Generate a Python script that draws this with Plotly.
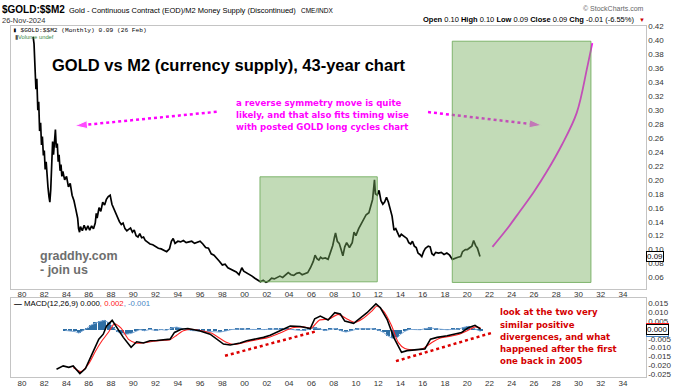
import plotly.graph_objects as go

# ---------------- DATA ----------------
gold_m2_years = [
    1981.00, 1981.08, 1981.17, 1981.25, 1981.33, 1981.42, 1981.50, 1981.58, 1981.67, 1981.75, 1981.83, 1981.92,
    1982.00, 1982.08, 1982.17, 1982.25, 1982.33, 1982.42, 1982.50, 1982.58, 1982.67, 1982.75, 1982.83, 1982.92,
    1983.00, 1983.08, 1983.17, 1983.25, 1983.33, 1983.42, 1983.50, 1983.58, 1983.67, 1983.83,
    1984.00, 1984.17, 1984.33, 1984.50, 1984.67, 1984.83,
    1985.00, 1985.08, 1985.17, 1985.25, 1985.42, 1985.58, 1985.75, 1985.92,
    1986.08, 1986.25, 1986.42, 1986.58, 1986.67, 1986.75, 1986.92,
    1987.08, 1987.25, 1987.42, 1987.58, 1987.75, 1987.92,
    1988.08, 1988.25, 1988.42, 1988.58, 1988.75, 1988.92,
    1989.08, 1989.25, 1989.42, 1989.58, 1989.75, 1989.92,
    1990.08, 1990.25, 1990.42, 1990.58, 1990.75, 1990.92,
    1991.08, 1991.25, 1991.50, 1991.75,
    1992.00, 1992.25, 1992.50, 1992.75,
    1993.00, 1993.25, 1993.42, 1993.58, 1993.75,
    1994.00, 1994.25, 1994.50, 1994.75,
    1995.00, 1995.25, 1995.50, 1995.75,
    1996.00, 1996.25, 1996.50, 1996.75,
    1997.00, 1997.25, 1997.50, 1997.75,
    1998.00, 1998.25, 1998.50, 1998.75,
    1999.00, 1999.25, 1999.50, 1999.75, 1999.92,
    2000.17, 2000.42, 2000.67, 2000.92,
    2001.17, 2001.42, 2001.67, 2001.92,
    2002.17, 2002.42, 2002.67, 2002.92,
    2003.17, 2003.42, 2003.67, 2003.92,
    2004.17, 2004.42, 2004.67, 2004.92,
    2005.17, 2005.42, 2005.67, 2005.92,
    2006.17, 2006.33, 2006.50, 2006.67, 2006.83,
    2007.00, 2007.25, 2007.50, 2007.75, 2007.92,
    2008.08, 2008.17, 2008.33, 2008.50, 2008.67, 2008.83,
    2009.00, 2009.17, 2009.42, 2009.67, 2009.83,
    2010.00, 2010.25, 2010.50, 2010.75, 2010.92,
    2011.17, 2011.33, 2011.50, 2011.67, 2011.75, 2011.92,
    2012.08, 2012.25, 2012.42, 2012.58, 2012.75, 2012.92,
    2013.08, 2013.25, 2013.42, 2013.58, 2013.75, 2013.92,
    2014.08, 2014.25, 2014.42, 2014.58, 2014.75, 2014.92,
    2015.08, 2015.25, 2015.42, 2015.58, 2015.75, 2015.92,
    2016.08, 2016.25, 2016.50, 2016.67, 2016.83,
    2017.00, 2017.17, 2017.42, 2017.67, 2017.92,
    2018.17, 2018.42, 2018.67, 2018.92,
    2019.17, 2019.42, 2019.58, 2019.83,
    2020.00, 2020.17, 2020.42, 2020.58, 2020.75, 2020.92,
    2021.08, 2021.15,
]
gold_m2_values = [
    0.405, 0.395, 0.360, 0.330, 0.345, 0.300, 0.312, 0.270, 0.282, 0.250, 0.262, 0.235,
    0.242, 0.215, 0.226, 0.200, 0.190, 0.176, 0.168, 0.186, 0.226, 0.255, 0.236, 0.262,
    0.272, 0.246, 0.252, 0.226, 0.236, 0.213, 0.222, 0.205, 0.212, 0.200,
    0.205, 0.190, 0.195, 0.178, 0.170, 0.158,
    0.145, 0.130, 0.125, 0.133, 0.127, 0.135, 0.128, 0.134,
    0.128, 0.134, 0.130, 0.138, 0.152, 0.145, 0.160,
    0.155, 0.168, 0.164, 0.172, 0.176, 0.178,
    0.165, 0.158, 0.152, 0.145, 0.140, 0.136,
    0.138, 0.130, 0.127, 0.129, 0.131, 0.125,
    0.128, 0.120, 0.118, 0.123, 0.117, 0.118,
    0.113, 0.111, 0.108, 0.107,
    0.104, 0.102, 0.101, 0.099,
    0.097, 0.101, 0.112, 0.116, 0.109,
    0.112, 0.111, 0.113, 0.110,
    0.111, 0.112, 0.109, 0.111,
    0.112, 0.108, 0.103, 0.102,
    0.094, 0.092, 0.088, 0.083,
    0.078, 0.079, 0.074, 0.072,
    0.071, 0.068, 0.064, 0.074, 0.069,
    0.067, 0.064, 0.062, 0.059,
    0.056, 0.054, 0.056, 0.053,
    0.055, 0.059, 0.058, 0.060,
    0.062, 0.060, 0.064, 0.067,
    0.064, 0.063, 0.066, 0.067,
    0.064, 0.066, 0.067, 0.074,
    0.083, 0.092, 0.087, 0.085, 0.089,
    0.087, 0.088, 0.086, 0.098, 0.106,
    0.118, 0.124, 0.112, 0.109, 0.100, 0.091,
    0.104, 0.110, 0.103, 0.110, 0.125,
    0.120, 0.130, 0.137, 0.146, 0.150,
    0.153, 0.162, 0.172, 0.200, 0.180, 0.178,
    0.185, 0.170, 0.165, 0.168, 0.175, 0.168,
    0.160, 0.148, 0.128, 0.130, 0.124, 0.118,
    0.122, 0.120, 0.117, 0.116, 0.110, 0.108,
    0.112, 0.105, 0.103, 0.095, 0.093, 0.090,
    0.097, 0.102, 0.105, 0.104, 0.094,
    0.092, 0.096, 0.095, 0.096, 0.093,
    0.095, 0.092, 0.086, 0.088,
    0.089, 0.090, 0.097, 0.100,
    0.100, 0.102, 0.105, 0.113, 0.106, 0.102,
    0.094, 0.090,
]

# hand-drawn projection curve (magenta)
projection_years = [2022.27, 2023.5, 2024.74, 2026.0, 2027.14, 2028.5, 2029.84, 2030.79, 2031.24]
projection_values = [0.104, 0.128, 0.155, 0.183, 0.2115, 0.250, 0.296, 0.3617, 0.396]

# highlighted green boxes: [x0, x1, y0, y1]
box_1 = [2001.38, 2011.92, 0.0538, 0.2044]
box_2 = [2018.66, 2031.12, 0.0529, 0.3988]

# dotted arrows in main panel: (start, tip)
arrow_left_x = [1997.49, 1984.76]
arrow_left_y = [0.2976, 0.2774]
arrow_right_x = [2016.48, 2026.69]
arrow_right_y = [0.2972, 0.2783]

# MACD(12,26,9)
macd_years = [1983.1, 1983.7, 1984.2, 1984.6, 1985.2, 1985.7, 1986.3, 1986.9, 1987.3, 1987.6,
              1988.1, 1988.5, 1989.1, 1989.8, 1990.3, 1990.9, 1991.5, 1992.1, 1992.7, 1993.3,
              1993.7, 1994.3, 1994.9, 1995.5, 1996.0, 1996.9, 1998.1, 1998.7, 1999.6, 2000.2,
              2001.0, 2001.7, 2002.3, 2002.9, 2003.5, 2004.1, 2005.0, 2005.9, 2006.3, 2006.8,
              2007.5, 2008.1, 2008.6, 2009.0, 2009.8, 2010.4, 2011.0, 2011.8, 2012.2, 2012.8,
              2013.4, 2014.1, 2014.6, 2015.5, 2016.2, 2016.7, 2017.3, 2018.2, 2018.9, 2019.5,
              2020.1, 2020.7, 2021.2]
macd_values = [-0.0222, -0.0203, -0.0211, -0.0203, -0.0246, -0.0218, -0.0135, -0.0052, -0.0024, 0.0022,
               0.0054, 0.0013, -0.0042, -0.0098, -0.0067, -0.0074, -0.0061, -0.0060, -0.0057, -0.0052,
               -0.0014, 0.0004, 0.0008, 0.0002, -0.0006, -0.0024, -0.0080, -0.0085, -0.0074, -0.0061,
               -0.0052, -0.0042, -0.0030, -0.0014, 0.0002, 0.0022, 0.0019, 0.0008, 0.0063, 0.0078,
               0.0056, 0.0097, 0.0090, 0.0050, 0.0037, 0.0069, 0.0097, 0.0147, 0.0125, 0.0060,
               -0.0042, -0.0126, -0.0117, -0.0111, -0.0107, -0.0052, -0.0042, -0.0033, -0.0024, -0.0014,
               0.0013, 0.0026, 0.0004]

signal_years = [1984.6, 1985.3, 1986.0, 1986.6, 1987.2, 1987.8, 1988.3, 1988.9, 1989.6, 1990.3,
                1991.0, 1991.8, 1992.6, 1993.3, 1993.9, 1994.5, 1995.2, 1996.0, 1997.0, 1998.3,
                1999.0, 2000.0, 2001.0, 2002.0, 2003.0, 2004.3, 2005.3, 2006.0, 2006.7, 2007.6,
                2008.4, 2009.2, 2009.9, 2010.6, 2011.4, 2011.9, 2012.5, 2013.2, 2013.8, 2014.4,
                2015.0, 2016.0, 2016.9, 2017.6, 2018.5, 2019.3, 2020.0, 2020.7, 2021.2]
signal_values = [-0.0212, -0.0235, -0.0190, -0.0120, -0.0060, -0.0010, 0.0035, 0.0010, -0.0055, -0.0075,
                 -0.0072, -0.0064, -0.0059, -0.0055, -0.0030, -0.0005, 0.0004, -0.0003, -0.0018, -0.0068,
                 -0.0082, -0.0070, -0.0056, -0.0045, -0.0022, 0.0012, 0.0017, 0.0010, 0.0055, 0.0062,
                 0.0088, 0.0062, 0.0042, 0.0063, 0.0105, 0.0135, 0.0105, 0.0025, -0.0070, -0.0105,
                 -0.0112, -0.0106, -0.0068, -0.0045, -0.0035, -0.0024, -0.0005, 0.0017, 0.0012]

hist_years = [1983.9, 1984.3, 1984.8, 1985.1, 1985.4, 1985.8, 1986.2, 1986.6, 1987.0, 1987.4,
              1987.8, 1988.2, 1988.6, 1989.0, 1989.4, 1989.8, 1990.2, 1990.6, 1991.0, 1991.5,
              1992.0, 1992.5, 1993.0, 1993.5, 1993.9, 1994.3, 1994.8, 1995.3, 1995.8, 1996.3,
              1996.8, 1997.3, 1997.8, 1998.3, 1998.8, 1999.3, 1999.8, 2000.3, 2000.8, 2001.3,
              2001.8, 2002.3, 2002.8, 2003.3, 2003.8, 2004.3, 2004.8, 2005.3, 2005.8, 2006.3,
              2006.7, 2007.2, 2007.7, 2008.2, 2008.7, 2009.1, 2009.6, 2010.1, 2010.6, 2011.1,
              2011.6, 2012.1, 2012.5, 2012.9, 2013.3, 2013.7, 2014.0, 2014.4, 2014.8, 2015.3,
              2015.8, 2016.3, 2016.7, 2017.2, 2017.7, 2018.2, 2018.7, 2019.2, 2019.7, 2020.1,
              2020.5, 2020.9, 2021.2]
hist_values = [-0.0003, -0.0005, -0.0010, -0.0018, -0.0008, 0.0008, 0.0028, 0.0040, 0.0048, 0.0054,
               0.0040, 0.0015, -0.0012, -0.0022, -0.0024, -0.0020, -0.0010, 0.0002, -0.0005, 0.0003,
               -0.0003, 0.0002, -0.0002, 0.0012, 0.0016, 0.0008, 0.0002, -0.0004, -0.0006, -0.0008,
               -0.0007, -0.0010, -0.0012, -0.0006, 0.0002, 0.0004, 0.0006, 0.0003, 0.0002, 0.0003,
               0.0002, 0.0005, 0.0004, 0.0003, 0.0005, 0.0002, -0.0002, -0.0003, 0.0004, 0.0012,
               0.0008, -0.0004, 0.0003, 0.0008, -0.0006, -0.0012, -0.0004, 0.0005, 0.0006, 0.0004,
               0.0006, -0.0003, -0.0015, -0.0035, -0.0048, -0.0045, -0.0025, -0.0008, 0.0003, 0.0002,
               0.0001, 0.0008, 0.0012, 0.0006, 0.0002, 0.0001, 0.0003, 0.0004, 0.0015, 0.0020,
               0.0010, 0.0002, -0.0008]

# divergence lines in MACD panel
div_1_x = [1998.24, 2006.33]
div_1_y = [-0.01461, -0.00094]
div_2_x = [2013.60, 2022.20]
div_2_y = [-0.01761, -0.00167]

# axis ticks
x_tick_years = [1980, 1982, 1984, 1986, 1988, 1990, 1992, 1994, 1996, 1998, 2000, 2002, 2004, 2006,
                2008, 2010, 2012, 2014, 2016, 2018, 2020, 2022, 2024, 2026, 2028, 2030, 2032, 2034]
x_tick_labels = ["80", "82", "84", "86", "88", "90", "92", "94", "96", "98", "00", "02", "04", "06",
                 "08", "10", "12", "14", "16", "18", "20", "22", "24", "26", "28", "30", "32", "34"]
main_y_ticks = [0.06, 0.08, 0.10, 0.12, 0.14, 0.16, 0.18, 0.20, 0.22, 0.24, 0.26, 0.28, 0.30,
                0.32, 0.34, 0.36, 0.38, 0.40, 0.42]
main_y_labels = ["0.06", "0.08", "0.10", "0.12", "0.14", "0.16", "0.18", "0.20", "0.22", "0.24",
                 "0.26", "0.28", "0.30", "0.32", "0.34", "0.36", "0.38", "0.40", "0.42"]
macd_y_ticks = [0.015, 0.010, 0.005, -0.005, -0.010, -0.015, -0.020, -0.025]
macd_y_labels = ["0.015", "0.010", "0.005", "-0.005", "-0.010", "-0.015", "-0.020", "-0.025"]

# ---------------- FIGURE ----------------
W, H = 680, 391
def px(x):
    return x / W
def py(y):
    return 1 - y / H

FONT = "Liberation Sans, Arial, sans-serif"
VFONT = "DejaVu Sans, Verdana, sans-serif"
MAGENTA = "#ff00ff"

fig = go.Figure()

# main price line
fig.add_trace(go.Scatter(x=gold_m2_years, y=gold_m2_values, mode="lines",
                         line=dict(color="black", width=1.7), xaxis="x", yaxis="y",
                         hoverinfo="skip"))
# projection curve
fig.add_trace(go.Scatter(x=projection_years, y=projection_values, mode="lines",
                         line=dict(color=MAGENTA, width=1.8, shape="spline"),
                         xaxis="x", yaxis="y", hoverinfo="skip"))
# dotted arrows
for ax_, ay_ in ((arrow_left_x, arrow_left_y), (arrow_right_x, arrow_right_y)):
    fig.add_trace(go.Scatter(x=ax_, y=ay_, mode="lines+markers",
                             line=dict(color=MAGENTA, width=2.5, dash="dot"),
                             marker=dict(symbol="arrow", size=[0, 13], color=MAGENTA,
                                         angleref="previous"),
                             xaxis="x", yaxis="y", hoverinfo="skip"))

# MACD histogram
fig.add_trace(go.Bar(x=hist_years, y=hist_values, width=0.36,
                     marker=dict(color="#2f6fa5", line=dict(width=0)),
                     xaxis="x2", yaxis="y2", hoverinfo="skip"))
fig.add_trace(go.Scatter(x=hist_years, y=hist_values, mode="lines",
                         line=dict(color="#7fa9d6", width=1), xaxis="x2", yaxis="y2",
                         hoverinfo="skip"))
# signal
fig.add_trace(go.Scatter(x=signal_years, y=signal_values, mode="lines",
                         line=dict(color="#ff2020", width=1.1, shape="spline", smoothing=0.6),
                         xaxis="x2", yaxis="y2", hoverinfo="skip"))
# MACD
fig.add_trace(go.Scatter(x=macd_years, y=macd_values, mode="lines",
                         line=dict(color="black", width=1.6),
                         xaxis="x2", yaxis="y2", hoverinfo="skip"))
# divergence lines
for dx, dy in ((div_1_x, div_1_y), (div_2_x, div_2_y)):
    fig.add_trace(go.Scatter(x=dx, y=dy, mode="lines",
                             line=dict(color="#dd0000", width=2.5, dash="dot"),
                             xaxis="x2", yaxis="y2", hoverinfo="skip"))

# green boxes above traces
shapes = []
for b in (box_1, box_2):
    shapes.append(dict(type="rect", xref="x", yref="y", x0=b[0], x1=b[1], y0=b[2], y1=b[3],
                       layer="above", fillcolor="rgba(120,175,95,0.45)",
                       line=dict(color="rgba(110,170,90,0.85)", width=1)))

ann = []
def text(x, y, s, size=8, color="black", family=FONT, xanchor="left", **kw):
    ann.append(dict(x=px(x), y=py(y), xref="paper", yref="paper", text=s, showarrow=False,
                    xanchor=xanchor, yanchor="middle",
                    font=dict(size=size, color=color, family=family), **kw))

# header
text(0, 6, "<b>$GOLD:$$M2</b>", size=10)
text(67, 6.5, "Gold - Continuous Contract (EOD)/M2 Money Supply (Discontinued)", size=7.5)
text(299, 6.5, "CME/INDX", size=6.5)
text(0, 17, "26-Nov-2024", size=7.5, color="#333")
text(646, 5, "© StockCharts.com", size=7, color="#666", xanchor="right")
text(636, 15.5, "<b>Open</b> 0.10 <b>High</b> 0.10 <b>Low</b> 0.09 <b>Close</b> 0.09 <b>Chg</b> -0.01 (-6.55%)",
     size=7.5, xanchor="right")
text(637, 16, "▼", size=6, color="#cc0000")
text(11, 27, "▮ $GOLD:$$M2 (Monthly) 0.09 (26 Feb)", size=6.2,
     family="Liberation Mono, Courier New, monospace")
text(13, 33.5, "<span style='color:#555'>▮</span>Volume undef", size=5.8, color="#3a8a4a")

# title and notes
text(50, 61.5, "<b>GOLD vs M2 (currency supply), 43-year chart</b>", size=16.5)
for yy, s in ((100.7, "a reverse symmetry move is quite"),
              (112.5, "likely, and that also fits timing wise"),
              (125, "with posted GOLD long cycles chart")):
    text(233.5, yy, "<b>" + s + "</b>", size=8.6, color=MAGENTA, family=VFONT)
text(38, 256, "<b>graddhy.com</b>", size=12.5, color="#6e6e6e")
text(38, 270.5, "<b>- join us</b>", size=12.5, color="#6e6e6e")
for yy, s in ((313.3, "look at the two very"),
              (325.7, "similar positive"),
              (338.2, "divergences, and what"),
              (350.6, "happened after the first"),
              (362.6, "one back in 2005")):
    text(498, yy, "<b>" + s + "</b>", size=8.6, color="#d40000", family=VFONT)

# MACD legend
text(12, 304, "<b>—</b> MACD(12,26,9) 0.000<span style='color:#ff2020'>, 0.002</span>"
              "<span style='color:#4a86c5'>, -0.001</span>", size=7.8)

# last-value boxes on right axes
def value_box(yv, yref, s, border):
    ann.append(dict(x=px(646), y=yv, xref="paper", yref=yref, text=s, showarrow=False,
                    xanchor="left", yanchor="middle", bgcolor="white", bordercolor=border,
                    borderwidth=1, borderpad=0, font=dict(size=8, family=FONT, color="black")))

value_box(0.09, "y", "0.09", "black")
value_box(0.0009, "y2", "0.000", "#ff2020")
value_box(-0.0009, "y2", "0.000", "#4a86c5")
value_box(0.0, "y2", "0.000", "black")

x_dom = [px(11), px(645.6)]
x_rng = [1979.01, 2036.03]
axis_common = dict(showgrid=False, zeroline=False, showline=True, mirror=True,
                   linecolor="#c4c4c4", linewidth=1, ticks="",
                   tickfont=dict(size=8, color="#333", family=FONT))

fig.update_layout(
    width=W, height=H, margin=dict(l=0, r=0, t=0, b=0),
    paper_bgcolor="white", plot_bgcolor="white", showlegend=False,
    bargap=0,
    xaxis=dict(domain=x_dom, range=x_rng, anchor="y", tickvals=x_tick_years,
               ticktext=x_tick_labels, ticklabelstandoff=-2, **axis_common),
    yaxis=dict(domain=[py(289.3), py(22.7)], range=[0.0437, 0.4201], anchor="x", side="right",
               tickvals=main_y_ticks, ticktext=main_y_labels, **axis_common),
    xaxis2=dict(domain=x_dom, range=x_rng, anchor="y2", tickvals=x_tick_years,
                ticktext=x_tick_labels, ticklabelstandoff=-2, **axis_common),
    yaxis2=dict(domain=[py(379.3), py(299)], range=[-0.02683, 0.01778], anchor="x2", side="right",
                tickvals=macd_y_ticks, ticktext=macd_y_labels, **axis_common),
    shapes=shapes,
    annotations=ann,
)

fig.write_html("out.html",
               config={"displayModeBar": False},
               post_script="document.body.style.margin='0px';document.body.style.padding='0px';"
                           "document.body.style.overflow='hidden';")
